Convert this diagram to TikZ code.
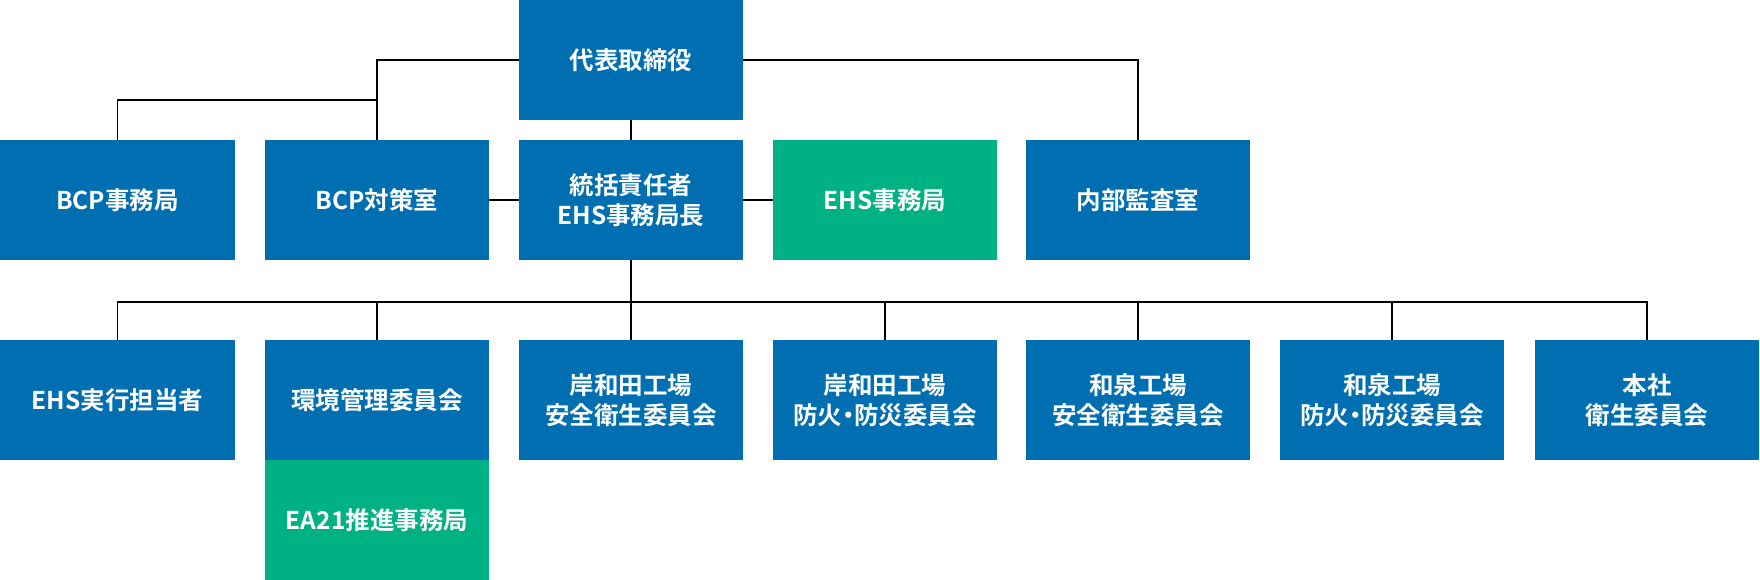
\documentclass[tikz,border=0pt]{standalone}
\usepackage{fontspec}
\setmainfont{Noto Sans CJK JP}[BoldFont={Noto Sans CJK JP Bold}]
\definecolor{orgblue}{HTML}{006FB2}
\definecolor{orggreen}{HTML}{00B184}
\newcommand\nakaguro{{\addfontfeature{RawFeature=+palt}・}}
\begin{document}
\begin{tikzpicture}[x=1pt, y=-1pt,
    box/.style={fill=orgblue, text=white, minimum width=224pt, minimum height=120pt,
      inner sep=0pt, align=center, font=\bfseries\fontsize{24.5}{30}\selectfont},
    gbox/.style={box, fill=orggreen},
    link/.style={line width=1.6pt}]
        \def\rowa{200}
        \def\rowb{400}
        \def\bus{302}

        \useasboundingbox (0,0) rectangle (1760,580);

        % top
        \node [box] (ceo) at (631,60) {代表取締役};

        % first row
        \node [box, minimum width=235pt] (bcpo) at (117.5,\rowa) {BCP事務局};
        \node [box] (bcpr) at (377,\rowa) {BCP対策室};
        \node [box] (resp) at (631,\rowa) {統括責任者\\EHS事務局長};
        \node [gbox] (ehso) at (885,\rowa) {EHS事務局};
        \node [box] (audit) at (1138,\rowa) {内部監査室};

        % second row
        \node [box, minimum width=235pt] (exec) at (117.5,\rowb) {EHS実行担当者};
        \node [box] (envc) at (377,\rowb) {環境管理委員会};
        \node [gbox] (ea21) at (377,520) {EA21推進事務局};
        \node [box] (kssc) at (631,\rowb) {岸和田工場\\安全衛生委員会};
        \node [box] (kfpc) at (885,\rowb) {岸和田工場\\防火\nakaguro 防災委員会};
        \node [box] (issc) at (1138,\rowb) {和泉工場\\安全衛生委員会};
        \node [box] (ifpc) at (1392,\rowb) {和泉工場\\防火\nakaguro 防災委員会};
        \node [box] (hqhc) at (1647,\rowb) {本社\\衛生委員会};

        \coordinate (split) at (377,100);
        \coordinate (hub) at (631,\bus);

        \draw [link] (ceo.west) -| (bcpr.north);
        \draw [link] (bcpo.north) |- (split);
        \draw [link] (ceo.east) -| (audit.north);
        \draw [link] (ceo) -- (resp);
        \draw [link] (bcpr) -- (resp);
        \draw [link] (resp) -- (ehso);
        \draw [link] (resp.south) -- (hub);
        \foreach \n in {exec,envc,kssc,kfpc,issc,ifpc,hqhc}
          \draw [link] (\n.north) |- (hub);
      \end{tikzpicture}
\end{document}
